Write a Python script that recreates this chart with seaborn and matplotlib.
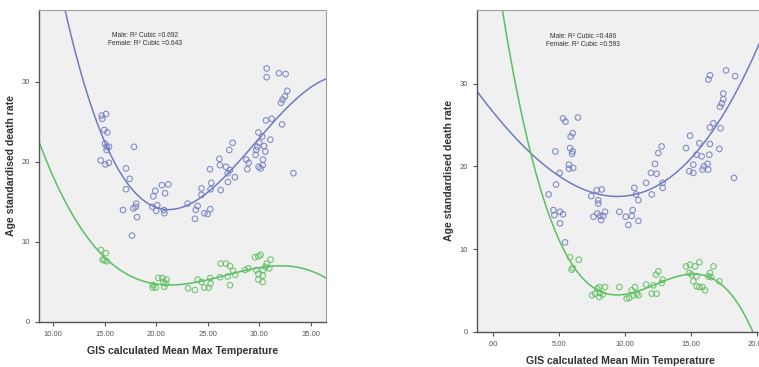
import numpy as np
import matplotlib
matplotlib.use("Agg")
import matplotlib.pyplot as plt
import seaborn as sns

# values (same regions, two temperature measures)
# panel 1: mean max temperature
max_temp_male = [14.70, 15.12, 14.76, 14.95, 15.25, 15.02, 15.18, 15.41, 15.18, 14.60,
                 15.05, 15.40, 17.06, 17.84, 17.42, 17.06, 16.77, 17.77, 18.06, 18.00,
                 18.13, 17.64, 19.71, 19.90, 20.55, 21.17, 20.85, 19.62, 20.10, 20.00,
                 20.75, 20.79, 23.05, 23.83, 23.76, 24.02, 24.40, 24.38, 24.67, 24.99,
                 25.25, 25.22, 25.28, 25.35, 26.13, 26.19, 26.26, 26.77, 27.10, 27.42,
                 26.94, 27.16, 26.96, 27.64, 28.75, 28.98, 28.85, 29.66, 29.82, 29.92,
                 30.01, 29.72, 29.95, 30.14, 30.34, 30.30, 30.47, 30.60, 30.37, 30.66,
                 30.73, 30.73, 31.08, 31.21, 31.92, 32.57, 32.12, 32.28, 32.73, 32.50,
                 32.22, 33.32]
rate_male_1 = [25.8, 26.0, 25.4, 24.0, 23.7, 22.3, 21.9, 21.9, 21.5, 20.2,
               19.7, 19.9, 19.2, 21.9, 17.9, 16.6, 14.0, 14.2, 14.8, 14.4,
               13.1, 10.8, 15.7, 16.4, 17.1, 17.2, 16.1, 14.4, 14.6, 13.9,
               14.0, 13.6, 14.8, 14.0, 12.9, 14.5, 16.7, 15.9, 13.6, 13.5,
               14.1, 19.1, 16.6, 17.4, 20.4, 19.6, 16.5, 19.4, 21.5, 22.4,
               18.6, 19.0, 17.5, 18.1, 20.3, 19.9, 19.1, 20.9, 21.9, 23.7,
               22.4, 21.5, 19.4, 19.2, 19.6, 23.2, 22.0, 21.3, 20.3, 25.2,
               31.7, 30.6, 22.8, 25.4, 31.1, 31.0, 27.4, 27.8, 28.9, 28.2,
               24.7, 18.6]
max_temp_female = [14.63, 15.12, 14.95, 15.18, 14.79, 19.71, 19.93, 19.65, 20.20, 20.69,
                   20.59, 20.91, 21.00, 20.79, 23.10, 23.76, 24.02, 24.40, 24.67, 25.09,
                   25.25, 25.28, 26.19, 26.26, 26.77, 26.94, 27.16, 27.16, 27.48, 27.67,
                   28.62, 28.94, 29.59, 29.92, 30.14, 29.72, 29.92, 29.92, 30.34, 30.34,
                   30.60, 30.73, 31.11, 30.40, 30.98]
rate_female_1 = [9.0, 8.6, 7.7, 7.6, 7.8, 4.6, 4.3, 4.3, 5.5, 5.0,
                 5.5, 4.8, 5.3, 4.4, 4.2, 4.0, 5.3, 5.0, 4.3, 4.3,
                 5.5, 4.8, 5.6, 7.3, 7.3, 5.7, 7.0, 4.6, 6.4, 5.9,
                 6.5, 6.7, 8.1, 8.2, 8.4, 6.5, 6.0, 5.3, 5.8, 5.0,
                 6.9, 7.3, 7.8, 6.5, 6.7]

# panel 2: mean min temperature
min_temp_male = [5.33, 5.51, 6.46, 5.91, 6.06, 5.86, 6.06, 6.01, 4.75, 5.08,
                 5.78, 5.78, 6.10, 4.80, 4.24, 4.60, 4.67, 5.10, 5.33, 5.10,
                 5.48, 7.47, 7.88, 8.26, 8.00, 8.00, 7.63, 7.93, 8.13, 8.21,
                 8.38, 8.51, 9.60, 10.08, 10.28, 10.53, 10.61, 11.04, 10.73, 10.86,
                 11.04, 11.62, 12.05, 11.99, 12.30, 12.42, 12.55, 12.80, 12.88, 12.88,
                 14.95, 14.65, 14.90, 15.20, 15.20, 15.45, 15.66, 15.83, 16.00, 15.90,
                 16.28, 16.33, 16.41, 16.46, 16.34, 16.46, 16.46, 16.72, 17.22, 17.35,
                 17.47, 17.47, 17.27, 17.17, 17.68, 18.36, 18.28]
rate_male_2 = [25.8, 25.4, 25.9, 23.6, 24.0, 22.2, 21.8, 21.5, 21.8, 19.2,
               20.2, 19.7, 19.8, 17.8, 16.6, 14.7, 14.1, 14.5, 14.2, 13.1,
               10.8, 16.4, 17.1, 17.2, 15.9, 15.5, 13.9, 14.3, 14.0, 13.5,
               14.0, 14.5, 14.5, 13.9, 12.9, 14.0, 14.7, 13.4, 17.4, 16.6,
               15.9, 18.0, 16.6, 19.2, 20.3, 19.1, 21.6, 22.4, 18.0, 17.4,
               23.7, 22.2, 19.4, 19.2, 20.2, 21.4, 22.8, 21.2, 20.0, 19.6,
               20.3, 19.6, 21.4, 22.7, 30.5, 31.0, 24.7, 25.2, 27.2, 27.6,
               28.1, 28.8, 24.6, 22.1, 31.6, 30.9, 18.6]
min_temp_female = [5.86, 6.52, 6.06, 5.98, 7.53, 7.75, 7.93, 8.08, 8.13, 8.33,
                   8.51, 8.08, 9.60, 10.15, 10.35, 10.53, 10.78, 10.91, 11.06, 10.66,
                   11.62, 12.05, 12.42, 12.17, 12.37, 12.55, 12.88, 12.80, 14.65, 14.95,
                   15.33, 15.66, 14.90, 15.07, 15.20, 15.45, 15.66, 15.90, 16.09, 16.34,
                   16.46, 16.72, 16.54, 17.17, 15.45]
rate_female_2 = [9.0, 8.7, 7.7, 7.5, 4.4, 4.6, 5.2, 5.4, 4.7, 4.5,
                 5.4, 4.2, 5.4, 4.0, 4.1, 5.0, 5.4, 4.6, 4.4, 4.4,
                 5.7, 4.6, 4.6, 5.6, 6.9, 7.3, 6.3, 5.9, 7.9, 8.1,
                 7.9, 8.4, 7.1, 6.9, 6.1, 5.5, 5.4, 5.4, 5.0, 6.7,
                 7.1, 7.9, 6.6, 6.1, 6.7]

r2_text_1 = "Male: R\u00b2 Cubic =0.692\nFemale: R\u00b2 Cubic =0.643"
r2_text_2 = "Male: R\u00b2 Cubic =0.486\nFemale: R\u00b2 Cubic =0.593"

male_col = "#6F7BC2"
female_col = "#5CBF5F"

plt.rcParams['font.family'] = ['Liberation Sans', 'DejaVu Sans']

fig = plt.figure(figsize=(7.59, 3.67), dpi=100)
ax1 = fig.add_axes([39/759, 1-322/367, 287/759, 312/367])
ax2 = fig.add_axes([476.7/759, 1-331.7/367, 288.3/759, 321.7/367])


def tick_fmt(v, pos):
    s = "%.2f" % v
    if s.startswith("0."):
        s = s[1:]
    return s


def draw_panel(ax, xm, ym, xf, yf, xlim, ylim, xticks, xlabel, note):
    ax.set_facecolor("#F0F0F0")
    ax.set_xlim(xlim)
    ax.set_ylim(ylim)
    for x, y, c in [(xm, ym, male_col), (xf, yf, female_col)]:
        sns.regplot(x=np.array(x), y=np.array(y), order=3, ci=None, truncate=False, ax=ax,
                    scatter_kws=dict(facecolors="none", edgecolors=c, s=16,
                                     linewidths=0.8, alpha=0.85),
                    line_kws=dict(color=c, lw=1.1), color=c)
    ax.set_xlim(xlim)
    ax.set_ylim(ylim)
    ax.set_xticks(xticks)
    ax.set_yticks([0, 10, 20, 30])
    ax.xaxis.set_major_formatter(matplotlib.ticker.FuncFormatter(tick_fmt))
    ax.tick_params(labelsize=5.5, labelcolor="#555555", color="#555555",
                   length=3, width=0.8, direction="out")
    ax.set_xlabel(xlabel, fontsize=7.6, fontweight="bold", color="#333333", labelpad=6)
    ax.set_ylabel("Age standardised death rate", fontsize=7.6, fontweight="bold",
                  color="#333333", labelpad=4)
    for s in ["left", "bottom"]:
        ax.spines[s].set_color("#555555")
        ax.spines[s].set_linewidth(1.0)
    for s in ["top", "right"]:
        ax.spines[s].set_color("#A0A0A0")
        ax.spines[s].set_linewidth(0.8)
    ax.text(0.37, 0.93, note, transform=ax.transAxes, ha="center", va="top",
            fontsize=4.8, color="#333333", linespacing=1.3)


draw_panel(ax1, max_temp_male, rate_male_1, max_temp_female, rate_female_1,
           (8.61, 36.49), (0, 39.0), [10, 15, 20, 25, 30, 35],
           "GIS calculated Mean Max Temperature", r2_text_1)
draw_panel(ax2, min_temp_male, rate_male_2, min_temp_female, rate_female_2,
           (-1.21, 20.63), (0, 38.9), [0, 5, 10, 15, 20],
           "GIS calculated Mean Min Temperature", r2_text_2)
ax2.spines["right"].set_visible(False)

fig.savefig("out.png", dpi=100)
